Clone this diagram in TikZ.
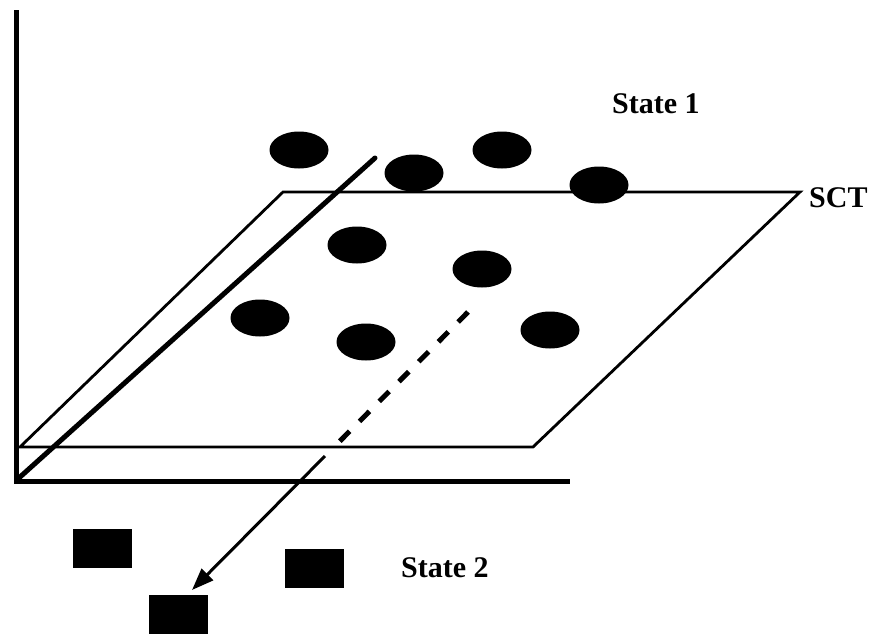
\documentclass[tikz,border=0pt]{standalone}
\usepackage{fontspec}
\setmainfont{Liberation Serif}
\usetikzlibrary{arrows.meta,shapes.geometric}
\begin{document}
\begin{tikzpicture}[x=1pt,y=-1pt,
  axis/.style={line width=5pt},
  plane/.style={line width=2.8pt,line join=miter},
  dot/.style={ellipse,fill=black,inner sep=0pt,minimum width=59pt,minimum height=37pt},
  blockbox/.style={rectangle,fill=black,inner sep=0pt,minimum width=59pt,minimum height=39pt},
  lbl/.style={font=\bfseries\fontsize{30}{32}\selectfont,inner sep=0pt,anchor=base west}]
\useasboundingbox (0,0) rectangle (875,635);

% coordinate axes
\coordinate (o) at (16,481);
\coordinate (ytop) at (16,10);
\coordinate (xend) at (570,481);
\draw[axis,line join=miter] (ytop) -- (o) -- (xend);

% the SCT plane
\coordinate (p1) at (20,447);
\coordinate (p2) at (533,447);
\coordinate (p3) at (800,192);
\coordinate (p4) at (283,192);
\draw[plane] (p1) -- (p2) -- (p3) -- (p4) -- cycle;

% thick diagonal through the origin
\coordinate (d0) at (20,477);
\coordinate (d1) at (375,158);
\draw[line width=5pt,line cap=round] (d0) -- (d1);

% state 1 elements
\node[dot] (e1) at (299,150) {};
\node[dot] (e2) at (414,173) {};
\node[dot] (e3) at (502,150) {};
\node[dot] (e4) at (599,185) {};
\node[dot] (e5) at (357,245) {};
\node[dot] (e6) at (482,269) {};
\node[dot] (e7) at (260,318) {};
\node[dot] (e8) at (366,342) {};
\node[dot] (e9) at (550,330) {};

% state 2 elements
\node[blockbox] (s1) at (102.5,548.5) {};
\node[blockbox] (s2) at (314.5,568.5) {};
\node[blockbox] (s3) at (178.5,614.5) {};

% projection from the plane to state 2
\coordinate (q0) at (468,312);
\coordinate (q1) at (338,443);
\coordinate (q2) at (325,456);
\coordinate (q3) at (192,590);
\draw[line width=5pt,dash pattern=on 14pt off 14pt] (q0) -- (q1);
\draw[line width=3pt,-{Triangle[length=22pt,width=16pt]}] (q2) -- (q3);

% labels
\node[lbl] (t1) at (612,113) {State 1};
\node[lbl] (t2) at (809,207) {SCT};
\node[lbl] (t3) at (401,577) {State 2};
\end{tikzpicture}
\end{document}
